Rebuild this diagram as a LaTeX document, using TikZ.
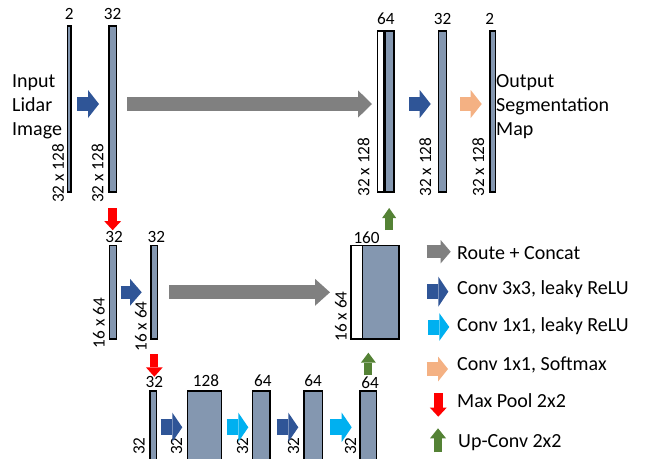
\documentclass[tikz,border=0pt]{standalone}
\usepackage{fontspec}
\setmainfont{Carlito}
\usepackage{xcolor}
\usetikzlibrary{positioning, arrows.meta}

\definecolor{layerfill}{HTML}{8497B0}
\definecolor{convblue}{HTML}{2F5597}
\definecolor{convcyan}{HTML}{00B0F0}
\definecolor{softpeach}{HTML}{F4B183}
\definecolor{routegray}{HTML}{808080}
\definecolor{poolred}{HTML}{FF0000}
\definecolor{upgreen}{HTML}{548235}

\begin{document}
\begin{tikzpicture}[x=1pt, y=-1pt,
  layer/.style={draw, line width=1.1pt, fill=layerfill, inner sep=0pt, outer sep=0pt, anchor=north west},
  num/.style={font=\fontsize{17.2}{18}\selectfont, inner sep=0pt},
  dim/.style={num, rotate=90, anchor=west},
  txt/.style={font=\fontsize{20}{24}\selectfont, inner sep=0pt, align=left, anchor=base west},
  blk/.style n args={3}{line width=#1, -{Triangle[width=#2, length=#3, line width=0pt]}}]
\useasboundingbox (0,0) rectangle (645,458);
\clip (0,0) rectangle (645,458);
% Level 1: 32 x 128
\node[layer, minimum width=3.5pt, minimum height=166pt] (inp) at (67.5,26) {};
\node[layer, minimum width=7.3pt, minimum height=166pt] (e1) at (109,26) {};
\node[layer, fill=white, minimum width=6.6pt, minimum height=161pt] (c1w) at (377.7,31) {};
\node[layer, minimum width=9.7pt, minimum height=161pt] (c1) at (384.3,31) {};
\draw[line width=2.4pt] (c1w.north east) -- (c1w.south east);
\node[layer, minimum width=8pt, minimum height=161pt] (d1) at (438.7,31) {};
\node[layer, minimum width=5.3pt, minimum height=161pt] (out) at (490,31) {};
\node[num, above=6pt of inp] (n1) {2};
\node[num, above=6pt of e1] (n2) {32};
\node[num, above=6pt of c1w.north east, xshift=1.5pt] (n3) {64};
\node[num, above=6pt of d1] (n4) {32};
\node[num, above=6pt of out, xshift=-3pt] (n5) {2};
\node[dim] (s1) at (58,203) {32 x 128};
\node[dim] (s2) at (97.5,203) {32 x 128};
\node[dim] (s3) at (363.5,196.7) {32 x 128};
\node[dim] (s4) at (425.3,196.7) {32 x 128};
\node[dim] (s5) at (478.3,196.7) {32 x 128};
\node[txt] (intext) at (12,135) {Input\\Lidar\\Image};
\node[txt] (outtext) at (496,135) {Output\\Segmentation\\Map};
\coordinate (row1) at (0,104);
\draw[blk={14pt}{28pt}{11pt}, convblue, shorten <=6pt, shorten >=10pt] (inp.east |- row1) -- (e1.west |- row1);
\draw[blk={13.4pt}{27.3pt}{14pt}, routegray, shorten <=10.7pt, shorten >=5.7pt] (e1.east |- row1) -- (c1w.west |- row1);
\draw[blk={14pt}{28pt}{11pt}, convblue, shorten <=15pt, shorten >=8pt] (c1.east |- row1) -- (d1.west |- row1);
\draw[blk={14pt}{28pt}{11pt}, softpeach, shorten <=13.3pt, shorten >=8.3pt] (d1.east |- row1) -- (out.west |- row1);
% Level 2: 16 x 64
\node[layer, minimum width=7.4pt, minimum height=93.3pt] (e2) at (109.3,245.7) {};
\node[layer, minimum width=6.7pt, minimum height=93.3pt] (e3) at (151,245.7) {};
\node[layer, fill=white, minimum width=11.3pt, minimum height=93.3pt] (c2w) at (351,245.7) {};
\node[layer, minimum width=36.7pt, minimum height=93.3pt] (c2) at (362.3,245.7) {};
\draw[line width=1.6pt] (c2w.north east) -- (c2w.south east);
\node[num, above=3pt of e2, xshift=1pt] (n6) {32};
\node[num, above=3pt of e3, xshift=2pt] (n7) {32};
\node[num, anchor=south west, xshift=2.3pt, yshift=1.7pt] (n8) at (c2w.north west) {160};
\node[dim] (s6) at (99,348.3) {16 x 64};
\node[dim] (s7) at (141,351.7) {16 x 64};
\node[dim] (s8) at (341,341.7) {16 x 64};
\coordinate (row2) at (0,292.3);
\draw[blk={13.3pt}{27pt}{11.7pt}, convblue, shorten <=4pt, shorten >=9.3pt] (e2.east |- row2) -- (e3.west |- row2);
\draw[blk={14.3pt}{27pt}{15pt}, routegray, shorten <=11.3pt, shorten >=21pt] (e3.east |- row2) -- (c2w.west |- row2);
% Level 3: 8 x 32
\node[layer, minimum width=6.7pt, minimum height=80pt] (e4) at (150,391) {};
\node[layer, minimum width=34.4pt, minimum height=80pt] (e5) at (187.3,391) {};
\node[layer, minimum width=17.7pt, minimum height=80pt] (e6) at (252.3,391) {};
\node[layer, minimum width=18.3pt, minimum height=80pt] (e7) at (304,391) {};
\node[layer, minimum width=16.7pt, minimum height=80pt] (u1) at (360,391) {};
\node[num, above=3.5pt of e4, xshift=1pt] (n9) {32};
\node[num, above=4pt of e5, xshift=1.5pt] (n10) {128};
\node[num, above=4pt of e6, xshift=1.7pt] (n11) {64};
\node[num, above=4pt of e7] (n12) {64};
\node[num, above=2pt of u1, xshift=1.7pt] (n13) {64};
\node[dim] (s9) at (139,455) {32};
\node[dim] (s10) at (176.7,455) {32};
\node[dim] (s11) at (242.7,455) {32};
\node[dim] (s12) at (293.7,455) {32};
\node[dim] (s13) at (350.5,455) {32};
\coordinate (row3) at (0,427.3);
\draw[blk={16pt}{29.3pt}{10pt}, convblue, shorten <=4pt, shorten >=5pt] (e4.east |- row3) -- (e5.west |- row3);
\draw[blk={16pt}{29.3pt}{10pt}, convcyan, shorten <=5pt, shorten >=4pt] (e5.east |- row3) -- (e6.west |- row3);
\draw[blk={16pt}{29.3pt}{10pt}, convblue, shorten <=6.7pt, shorten >=5.7pt] (e6.east |- row3) -- (e7.west |- row3);
\draw[blk={16pt}{29.3pt}{10pt}, convcyan, shorten <=7.7pt, shorten >=8.3pt] (e7.east |- row3) -- (u1.west |- row3);
% pooling and up-convolution between levels
\draw[blk={9pt}{16.7pt}{9pt}, poolred, shorten <=16pt, shorten >=15.5pt] (e1.south) -- (e1.south |- e2.north);
\draw[blk={8pt}{14pt}{10pt}, upgreen, shorten <=15.7pt, shorten >=16pt] (c1.south |- c2.north) -- (c1.south);
\draw[blk={8pt}{16.7pt}{9.3pt}, poolred, shorten <=15pt, shorten >=14.3pt] (e3.south) -- (e3.south |- e4.north);
\draw[blk={8pt}{15pt}{10pt}, upgreen, shorten <=16pt, shorten >=13.7pt] (u1.north) -- (u1.north |- c2.south);
% Legend
\node[txt] (k1) at (457,259.5) {Route + Concat};
\node[txt] (k2) at (457,294) {Conv 3x3, leaky ReLU};
\node[txt] (k3) at (457,331) {Conv 1x1, leaky ReLU};
\node[txt] (k4) at (457,370) {Conv 1x1, Softmax};
\node[txt] (k5) at (457,407) {Max Pool 2x2};
\node[txt] (k6) at (458,447) {Up-Conv 2x2};
\coordinate (g1) at (426.7,251.7); \coordinate (h1) at (450.7,251.7);
\coordinate (g2) at (427.3,291.7); \coordinate (h2) at (448.3,291.7);
\coordinate (g3) at (428,327);     \coordinate (h3) at (449.3,327);
\coordinate (g4) at (426.7,369);   \coordinate (h4) at (448,369);
\coordinate (g5) at (438.3,393.3); \coordinate (h5) at (438.3,416.7);
\coordinate (g6) at (438,452.3);   \coordinate (h6) at (438,428.3);
\draw[blk={13.3pt}{23.3pt}{10pt}, routegray] (g1) -- (h1);
\draw[blk={15pt}{30pt}{10pt}, convblue] (g2) -- (h2);
\draw[blk={15pt}{27.7pt}{10pt}, convcyan] (g3) -- (h3);
\draw[blk={14pt}{25pt}{10pt}, softpeach] (g4) -- (h4);
\draw[blk={9pt}{16.7pt}{9pt}, poolred] (g5) -- (h5);
\draw[blk={8.5pt}{16pt}{10pt}, upgreen] (g6) -- (h6);
\end{tikzpicture}
\end{document}
